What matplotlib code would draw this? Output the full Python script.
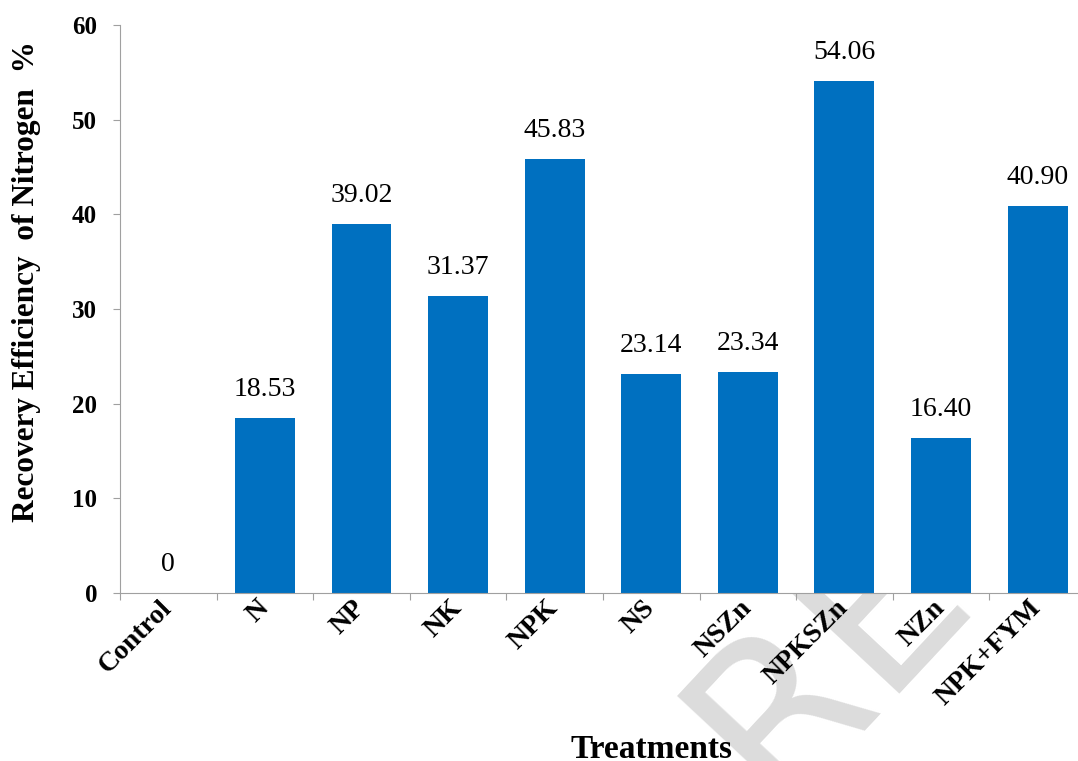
import matplotlib
matplotlib.use("Agg")
import matplotlib.pyplot as plt
from matplotlib.transforms import ScaledTranslation

# data
treatments = ["Control", "N", "NP", "NK", "NPK", "NS", "NSZn", "NPKSZn", "NZn", "NPK+FYM"]
recovery = [0, 18.53, 39.02, 31.37, 45.83, 23.14, 23.34, 54.06, 16.40, 40.90]
value_labels = ["0", "18.53", "39.02", "31.37", "45.83", "23.14", "23.34", "54.06", "16.40", "40.90"]
y_ticks = [0, 10, 20, 30, 40, 50, 60]

plt.rcParams['font.family'] = ['Liberation Serif', 'DejaVu Serif']

fig = plt.figure(figsize=(10.78, 7.61), dpi=100)
ax = fig.add_axes([0.1113, 0.2208, 0.896, 0.7462])

# watermark on the page, the white plot area hides the part above the x axis
fig.text(0.7175, -0.0595, "REVIEW", fontsize=160, color='#dcdcdc', family='DejaVu Sans',
         rotation=47, ha='left', va='baseline', rotation_mode='anchor', zorder=0)

xs = list(range(len(treatments)))
ax.bar(xs, recovery, width=0.62, color='#0070C0', zorder=2)
for xi, v, lab in zip(xs, recovery, value_labels):
    ax.text(xi, v + 1.7, lab, ha='center', va='bottom', fontsize=20)

ax.set_xlim(-0.5, len(treatments) - 0.5)
ax.set_ylim(0, 60)
ax.set_yticks(y_ticks)
ax.set_yticklabels([str(t) for t in y_ticks], fontsize=18, fontweight='bold')
ax.set_xticks([x - 0.5 for x in xs] + [len(xs) - 0.5])
ax.set_xticklabels([])
ax.set_xticks(xs, minor=True)
ax.set_xticklabels(treatments, minor=True, rotation=45, ha='right', va='center',
                   rotation_mode='anchor', fontsize=20, fontweight='bold')
shift = ScaledTranslation(3 / 100, 2 / 100, fig.dpi_scale_trans)
for lab in ax.get_xticklabels(minor=True):
    lab.set_transform(lab.get_transform() + shift)
ax.tick_params(axis='x', which='minor', length=0, pad=8)
ax.tick_params(axis='x', which='major', length=5, color='#a0a0a0', direction='out')
ax.tick_params(axis='y', length=5, color='#a0a0a0', pad=11.5)

ax.spines['top'].set_visible(False)
ax.spines['right'].set_visible(False)
ax.spines['left'].set_color('#a0a0a0')
ax.spines['bottom'].set_color('#a0a0a0')
ax.set_facecolor('white')
ax.set_zorder(1)

ax.set_ylabel("Recovery Efficiency  of Nitrogen  %", fontsize=22.5, fontweight='bold')
ax.yaxis.set_label_coords(-0.082, 0.548)
fig.text(0.604, -0.005, "Treatments", fontsize=24, fontweight='bold', ha='center', va='bottom')

fig.savefig("out.png", dpi=100)
